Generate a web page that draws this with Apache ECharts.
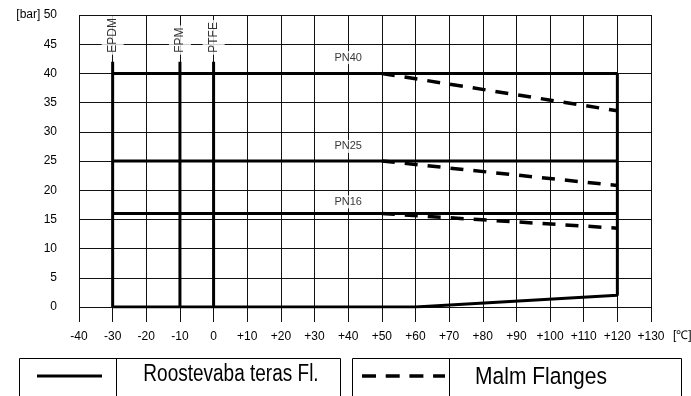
<!DOCTYPE html>
<html>
<head>
<meta charset="utf-8">
<script src="https://cdn.jsdelivr.net/npm/echarts@6/dist/echarts.min.js"></script>
<style>
  html, body { margin: 0; padding: 0; background: #fff; }
  #chart { width: 691px; height: 396px; }
</style>
</head>
<body>
<div id="chart"></div>
<script>
// Pressure / temperature rating of flanges (bar vs. °C)
const FONT = '"Liberation Sans", Arial, sans-serif';

// Axis ranges
const tempMin = -40, tempMax = 130, tempStep = 10;
const barMin = 0, barMax = 50, barStep = 5;
const tempUnit = '[℃]';
const pressureUnit = '[bar]';

// Stainless steel flanges (solid)
const pn40Steel = [[-30, 40], [120, 40]];
const pn25Steel = [[-30, 25], [120, 25]];
const pn16Steel = [[-30, 16], [120, 16]];
const steelOutline = [[-30, 0], [60, 0], [120, 2], [120, 40]];

// Seal material temperature limits (vertical bars)
const epdmLimit = [[-30, 0], [-30, 42]];
const fpmLimit = [[-10, 0], [-10, 42]];
const ptfeLimit = [[0, 0], [0, 42]];
const materialNames = ['EPDM', 'FPM', 'PTFE'];
const materialTemps = [-30, -10, 0];
const materialLabelBar = 43.2;

// Malleable iron flanges (dashed)
const pn40Malm = [[50, 40], [120, 33.6]];
const pn25Malm = [[50, 25], [120, 20.8]];
const pn16Malm = [[50, 16], [120, 13.5]];

// Pressure class labels
const pnNames = ['PN40', 'PN25', 'PN16'];
const pnLabelTemp = 40;
const pnLabelBar = [42.7, 27.5, 18.0];

// Legend texts
const legendNames = ['Roostevaba teras Fl.', 'Malm Flanges'];

const solid = { color: '#000', width: 3, type: 'solid', cap: 'butt' };
const dashed = { color: '#000', width: 3.5, type: [13, 10], cap: 'butt' };

function lineSeries(name, data, style) {
  return {
    name: name,
    type: 'line',
    data: data,
    showSymbol: false,
    symbol: 'none',
    silent: true,
    lineStyle: style,
    z: 5,
    animation: false
  };
}

const chart = echarts.init(document.getElementById('chart'), null, { renderer: 'canvas' });

const option = {
  animation: false,
  backgroundColor: '#fff',
  grid: { left: 79, right: 40, top: 15, bottom: 89, containLabel: false },
  xAxis: {
    type: 'value',
    min: tempMin, max: tempMax, interval: tempStep,
    axisLine: { show: false },
    axisTick: { show: true, length: 15, lineStyle: { color: '#111', width: 1 } },
    splitLine: { show: true, lineStyle: { color: '#111', width: 1 } },
    axisLabel: {
      margin: 24, fontSize: 12, color: '#000', fontFamily: FONT,
      formatter: v => (v > 0 ? '+' + v : String(v))
    }
  },
  yAxis: {
    type: 'value',
    min: barMin, max: barMax, interval: barStep,
    axisLine: { show: false },
    axisTick: { show: true, length: 17, lineStyle: { color: '#111', width: 1 } },
    splitLine: { show: true, lineStyle: { color: '#111', width: 1 } },
    axisLabel: {
      margin: 22, fontSize: 12, color: '#000', fontFamily: FONT,
      formatter: v => (v === barMax ? pressureUnit + ' ' + v : String(v))
    }
  },
  series: [
    lineSeries('EPDM', epdmLimit, solid),
    lineSeries('FPM', fpmLimit, solid),
    lineSeries('PTFE', ptfeLimit, solid),
    lineSeries('PN40 steel', pn40Steel, solid),
    lineSeries('PN25 steel', pn25Steel, solid),
    lineSeries('PN16 steel', pn16Steel, solid),
    lineSeries('steel outline', steelOutline, solid),
    lineSeries('PN40 malm', pn40Malm, dashed),
    lineSeries('PN25 malm', pn25Malm, dashed),
    lineSeries('PN16 malm', pn16Malm, dashed),
    {
      name: 'materials',
      type: 'scatter',
      symbolSize: 1,
      itemStyle: { color: 'rgba(0,0,0,0)' },
      silent: true,
      z: 8,
      data: materialNames.map((n, i) => ({ name: n, value: [materialTemps[i], materialLabelBar] })),
      label: {
        show: true,
        position: 'inside',
        rotate: 90,
        align: 'left',
        verticalAlign: 'middle',
        formatter: p => p.name,
        fontSize: 12,
        color: '#000',
        fontFamily: FONT,
        backgroundColor: '#fff',
        padding: [5, 2, 5, 2]
      }
    },
    {
      name: 'classes',
      type: 'scatter',
      symbolSize: 1,
      itemStyle: { color: 'rgba(0,0,0,0)' },
      silent: true,
      z: 8,
      data: pnNames.map((n, i) => ({ name: n, value: [pnLabelTemp, pnLabelBar[i]] })),
      label: {
        show: true,
        position: 'inside',
        align: 'center',
        verticalAlign: 'middle',
        formatter: p => p.name,
        fontSize: 11,
        color: '#000',
        fontFamily: FONT,
        backgroundColor: '#fff',
        padding: [1, 1, 1, 1]
      }
    }
  ],
  graphic: [
    // temperature unit after the last tick label
    {
      type: 'text', left: 673, top: 330, silent: true,
      style: { text: tempUnit, fontSize: 12, fill: '#000', fontFamily: FONT }
    },
    // legend box: stainless steel
    {
      type: 'rect', silent: true,
      shape: { x: 19.5, y: 358.5, width: 321, height: 60 },
      style: { fill: 'none', stroke: '#000', lineWidth: 1 }
    },
    {
      type: 'line', silent: true,
      shape: { x1: 116.5, y1: 358.5, x2: 116.5, y2: 400 },
      style: { stroke: '#000', lineWidth: 1 }
    },
    {
      type: 'line', silent: true,
      shape: { x1: 37, y1: 376, x2: 102, y2: 376 },
      style: { stroke: '#000', lineWidth: 3 }
    },
    {
      type: 'text', silent: true,
      x: 231, y: 374, scaleY: 1.3,
      style: {
        text: legendNames[0], fontSize: 19, fill: '#000', fontFamily: FONT,
        align: 'center', verticalAlign: 'middle'
      }
    },
    // legend box: malleable iron
    {
      type: 'rect', silent: true,
      shape: { x: 352.5, y: 358.5, width: 329, height: 60 },
      style: { fill: 'none', stroke: '#000', lineWidth: 1 }
    },
    {
      type: 'line', silent: true,
      shape: { x1: 449.5, y1: 358.5, x2: 449.5, y2: 400 },
      style: { stroke: '#000', lineWidth: 1 }
    },
    {
      type: 'line', silent: true,
      shape: { x1: 362, x2: 445, y1: 376, y2: 376 },
      style: { stroke: '#000', lineWidth: 3.5, lineDash: [14, 9.7] }
    },
    {
      type: 'text', silent: true,
      x: 541, y: 377, scaleY: 1.15,
      style: {
        text: legendNames[1], fontSize: 21, fill: '#000', fontFamily: FONT,
        align: 'center', verticalAlign: 'middle'
      }
    }
  ]
};

chart.setOption(option);
</script>
</body>
</html>
